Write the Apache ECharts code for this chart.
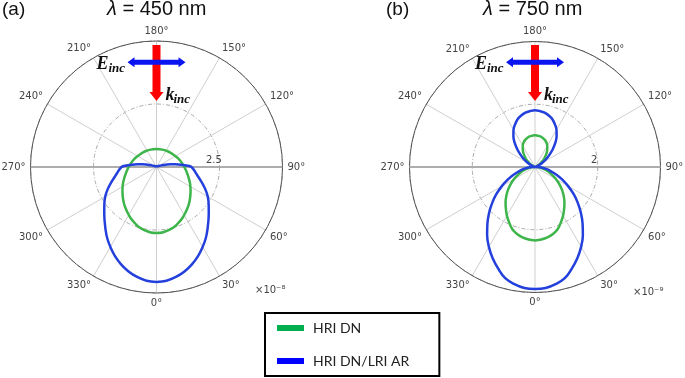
<!DOCTYPE html>
<html>
<head>
<meta charset="utf-8">
<script src="https://cdn.jsdelivr.net/npm/echarts@6/dist/echarts.min.js"></script>
<style>
  html, body { margin: 0; padding: 0; background: #fff; }
  #chart { width: 685px; height: 378px; }
</style>
</head>
<body>
<div id="chart"></div>
<script>
// panel (a), lambda = 450 nm, radius in units of 1e-8
const anglesGreenA = [0, 5, 10, 16, 21, 27, 33, 40, 47, 55, 64, 73, 84, 97, 111, 126, 143, 161, 180,
  199, 217, 234, 249, 263, 276, 287, 296, 305, 313, 320, 327, 333, 339, 344, 350, 355, 360];
const greenA = [2.62, 2.61, 2.56, 2.49, 2.39, 2.27, 2.13, 1.98, 1.82, 1.65, 1.48, 1.32, 1.17, 1.04, 0.93, 0.83, 0.77, 0.73, 0.71,
  0.73, 0.77, 0.83, 0.93, 1.04, 1.17, 1.32, 1.48, 1.65, 1.82, 1.98, 2.13, 2.27, 2.39, 2.49, 2.56, 2.61, 2.62];
const anglesBlueA = [0, 5, 10, 15, 20, 25, 29, 34, 39, 48, 54, 60, 66, 72, 80, 90, 93, 95, 98, 101, 104, 108, 117, 129, 180,
  231, 243, 252, 256, 259, 262, 265, 267, 270, 280, 288, 294, 300, 306, 312, 321, 326, 331, 335, 340, 345, 350, 355, 360];
const blueA = [4.56, 4.53, 4.43, 4.29, 4.11, 3.9, 3.71, 3.47, 3.21, 2.79, 2.56, 2.35, 2.11, 1.87, 1.61, 1.39, 1.19, 1.0, 0.76, 0.57, 0.37, 0.21, 0.09, 0.05, 0.03,
  0.05, 0.09, 0.21, 0.37, 0.57, 0.76, 1.0, 1.19, 1.39, 1.61, 1.87, 2.11, 2.35, 2.56, 2.79, 3.21, 3.47, 3.71, 3.9, 4.11, 4.29, 4.43, 4.53, 4.56];

// panel (b), lambda = 750 nm, radius in units of 1e-9
const anglesB = [0, 5, 10, 15, 20, 25, 30, 35, 40, 45, 50, 55, 60, 65, 70, 75, 80, 85, 90, 95, 100, 105, 110, 115, 120, 125, 130, 135, 140, 145, 150, 155, 160, 165, 170, 175, 180,
  185, 190, 195, 200, 205, 210, 215, 220, 225, 230, 235, 240, 245, 250, 255, 260, 265, 270, 275, 280, 285, 290, 295, 300, 305, 310, 315, 320, 325, 330, 335, 340, 345, 350, 355, 360];
const greenB = [2.34, 2.32, 2.28, 2.21, 2.11, 1.95, 1.79, 1.62, 1.46, 1.29, 1.12, 0.94, 0.77, 0.61, 0.48, 0.35, 0.23, 0.14, 0.07, 0.02, 0.0, 0.0, 0.03, 0.07, 0.14, 0.23, 0.35, 0.45, 0.57, 0.68, 0.78, 0.86, 0.92, 0.96, 0.99, 1.0, 1.01,
  1.0, 0.99, 0.96, 0.92, 0.86, 0.78, 0.68, 0.57, 0.45, 0.35, 0.23, 0.14, 0.07, 0.03, 0.0, 0.0, 0.02, 0.07, 0.14, 0.23, 0.35, 0.48, 0.61, 0.77, 0.94, 1.12, 1.29, 1.46, 1.62, 1.79, 1.95, 2.11, 2.21, 2.28, 2.32, 2.34];
const blueB = [3.89, 3.87, 3.79, 3.67, 3.44, 3.2, 2.94, 2.66, 2.36, 2.07, 1.78, 1.5, 1.22, 0.97, 0.74, 0.53, 0.36, 0.21, 0.1, 0.03, 0.0, 0.01, 0.06, 0.15, 0.27, 0.43, 0.6, 0.8, 1.01, 1.2, 1.37, 1.5, 1.62, 1.7, 1.76, 1.79, 1.81,
  1.79, 1.76, 1.7, 1.62, 1.5, 1.37, 1.2, 1.01, 0.8, 0.6, 0.43, 0.27, 0.15, 0.06, 0.01, 0.0, 0.03, 0.1, 0.21, 0.36, 0.53, 0.74, 0.97, 1.22, 1.5, 1.78, 2.07, 2.36, 2.66, 2.94, 3.2, 3.44, 3.67, 3.79, 3.87, 3.89];

const seriesNames = ['HRI DN', 'HRI DN/LRI AR'];
const radiusTickA = '2.5';
const radiusTickB = '2';
const exponentA = '×10⁻⁸';
const exponentB = '×10⁻⁹';

const GREEN = '#3db54a';
const BLUE = '#2340dc';
const centerA = [156.5, 167];
const centerB = [535, 167];
const R = 126;

const myChart = echarts.init(document.getElementById('chart'));

const pairs = (angles, radii) => angles.map((a, i) => [radii[i], a]);

const angleAxis = (idx) => ({
  polarIndex: idx,
  type: 'value',
  min: 0,
  max: 360,
  interval: 30,
  startAngle: 270,
  clockwise: false,
  axisLine: { lineStyle: { color: '#555', width: 1 } },
  axisTick: { show: false },
  axisLabel: {
    margin: 5,
    color: '#444',
    fontSize: 10,
    fontFamily: 'DejaVu Sans',
    formatter: (v) => (v === 360 ? '' : v + '°'),
  },
  splitLine: { lineStyle: { color: '#cfcfcf', width: 1 } },
  z: 1,
});

const radiusAxis = (idx, max) => ({
  polarIndex: idx,
  type: 'value',
  min: 0,
  max: max,
  interval: max / 2,
  axisLine: { show: false },
  axisTick: { show: false },
  axisLabel: { show: false },
  splitLine: { lineStyle: { color: '#aaa', width: 1, type: [4, 2, 1, 2] } },
});

const lineSeries = (name, idx, data, color) => ({
  name: name,
  type: 'line',
  coordinateSystem: 'polar',
  polarIndex: idx,
  data: data,
  smooth: 0.4,
  showSymbol: false,
  lineStyle: { color: color, width: 2.5 },
  itemStyle: { color: color },
  z: 3,
});

// incident wave arrows (k down in red, E horizontal in blue)
const arrows = (cx) => [
  {
    type: 'polygon',
    shape: { points: [[cx - 4, 45], [cx + 4, 45], [cx + 4, 92], [cx + 7, 92], [cx, 101], [cx - 7, 92], [cx - 4, 92]] },
    style: { fill: '#ff0000' },
    z: 10,
  },
  {
    type: 'polygon',
    shape: {
      points: [
        [cx - 29, 62.3], [cx - 22, 57.3], [cx - 22, 59.8], [cx + 22, 59.8], [cx + 22, 57.3], [cx + 29, 62.3],
        [cx + 22, 67.3], [cx + 22, 64.8], [cx - 22, 64.8], [cx - 22, 67.3],
      ],
    },
    style: { fill: '#0a14f0' },
    z: 11,
  },
  { type: 'text', x: cx - 60, y: 64, style: { text: 'E', font: 'bold italic 18px "Liberation Serif"', fill: '#111', verticalAlign: 'middle' }, z: 12 },
  { type: 'text', x: cx - 48, y: 69, style: { text: 'inc', font: 'bold italic 13px "Liberation Serif"', fill: '#111', verticalAlign: 'middle' }, z: 12 },
  { type: 'text', x: cx + 9, y: 95, style: { text: 'k', font: 'bold italic 18px "Liberation Serif"', fill: '#111', verticalAlign: 'middle' }, z: 12 },
  { type: 'text', x: cx + 17, y: 99.5, style: { text: 'inc', font: 'bold italic 13px "Liberation Serif"', fill: '#111', verticalAlign: 'middle' }, z: 12 },
];

// the 90°-270° spoke is drawn a little darker in the source
const horizontalSpoke = (c) => ({
  type: 'line',
  shape: { x1: c[0] - R, y1: c[1], x2: c[0] + R, y2: c[1] },
  style: { stroke: '#9a9a9a', lineWidth: 1.4 },
  z: 2,
  silent: true,
});

const smallText = (x, y, text) => ({
  type: 'text',
  x: x,
  y: y,
  style: { text: text, font: '10px "DejaVu Sans"', fill: '#444', verticalAlign: 'middle' },
  z: 12,
});

const plainTitle = { fontFamily: 'Liberation Sans', fontWeight: 'normal', fontSize: 19, color: '#111' };
const lambdaTitle = {
  fontFamily: 'Liberation Sans', fontWeight: 'normal', fontSize: 20, color: '#111',
  rich: { i: { fontStyle: 'italic', fontSize: 20, fontFamily: 'Liberation Sans', color: '#111' } },
};

const option = {
  animation: false,
  backgroundColor: '#fff',
  title: [
    { text: '(a)', left: 2, top: 0, padding: 0, textStyle: plainTitle },
    { text: '{i|λ} = 450 nm', left: 107, top: -1, padding: 0, textStyle: lambdaTitle },
    { text: '(b)', left: 386, top: 0, padding: 0, textStyle: plainTitle },
    { text: '{i|λ} = 750 nm', left: 483, top: -1, padding: 0, textStyle: lambdaTitle },
  ],
  polar: [
    { center: centerA, radius: R },
    { center: centerB, radius: R - 0.5 },
  ],
  angleAxis: [angleAxis(0), angleAxis(1)],
  radiusAxis: [radiusAxis(0, 5), radiusAxis(1, 4)],
  legend: {
    orient: 'vertical',
    left: 265,
    top: 313,
    padding: [8, 30, 8, 12],
    itemGap: 19,
    itemWidth: 27,
    itemHeight: 6,
    icon: 'rect',
    borderColor: '#000',
    borderWidth: 2,
    textStyle: { fontFamily: 'Lato', fontSize: 14, color: '#222', padding: [0, 0, 0, 4] },
    data: [
      { name: seriesNames[0], itemStyle: { color: '#00b050' } },
      { name: seriesNames[1], itemStyle: { color: '#0000ff' } },
    ],
  },
  graphic: [
    horizontalSpoke(centerA),
    horizontalSpoke(centerB),
    ...arrows(centerA[0]),
    ...arrows(centerB[0]),
    smallText(206, 160, radiusTickA),
    smallText(591, 160, radiusTickB),
    smallText(255, 290, exponentA),
    smallText(633, 292, exponentB),
  ],
  series: [
    lineSeries(seriesNames[0], 0, pairs(anglesGreenA, greenA), GREEN),
    lineSeries(seriesNames[1], 0, pairs(anglesBlueA, blueA), BLUE),
    lineSeries(seriesNames[0], 1, pairs(anglesB, greenB), GREEN),
    lineSeries(seriesNames[1], 1, pairs(anglesB, blueB), BLUE),
  ],
};

myChart.setOption(option);
</script>
</body>
</html>
